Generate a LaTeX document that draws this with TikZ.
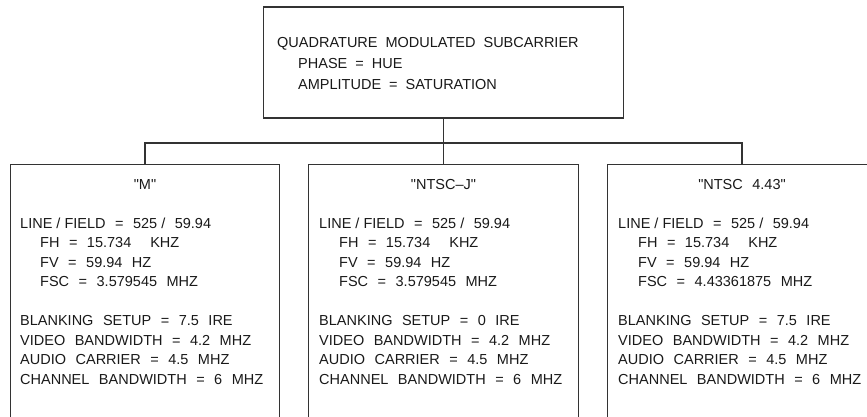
\documentclass[tikz,border=0pt]{standalone}
\usepackage{fontspec}
\setmainfont{Liberation Sans}[Ligatures=TeXOff]
\newcommand\gap{\hspace{8pt}}
\newcommand\bgap{\hspace{9.5pt}}
\newcommand\ind{\hspace*{20pt}}
\newcommand\tind{\hspace*{21pt}}
\begin{document}
\begin{tikzpicture}[x=1pt,y=-1pt,
  frame/.style={draw=black!80, line width=1.2pt},
  wire/.style={draw=black!80, line width=1.2pt},
  txt/.style={inner sep=0pt, text=black!90},
  body/.style={txt, anchor=north west, align=left, font=\fontsize{14.5}{19.5}\selectfont},
  topbody/.style={txt, anchor=north west, align=left, font=\fontsize{14.5}{21.3}\selectfont},
  title/.style={txt, anchor=base, font=\fontsize{14.5}{19.5}\selectfont},
  colbox/.style={inner sep=0pt, minimum width=269pt, minimum height=265pt}
]
\fill[white] (0,0) rectangle (867,417);
\clip (0,0) rectangle (867,417);

% top box
\node[frame, inner sep=0pt, minimum width=360pt, minimum height=111pt] (top) at (443.5,62.5) {};
\node[topbody] (toptext) at (277,36.8) {QUADRATURE\gap MODULATED\gap SUBCARRIER\\
\tind PHASE\gap=\gap HUE\\
\tind AMPLITUDE\gap=\gap SATURATION};

% column boxes (open at the bottom)
\node[colbox] (b1) at (145,297.5) {};
\node[colbox] (b2) at (443.5,297.5) {};
\node[colbox] (b3) at (742,297.5) {};
\foreach \b in {b1,b2,b3}{
  \draw[frame] (\b.south west) -- (\b.north west) -- (\b.north east) -- (\b.south east);
}

% connectors
\coordinate (bus) at (443.5,143);
\draw[wire] (top.south) -- (bus);
\draw[wire] (bus) -- (b2.north);
\draw[wire] (b1.north) |- (bus) -| (b3.north);

% titles
\node[title] (t1) at (145,189) {"M"};
\node[title] (t2) at (443.5,189) {"NTSC–J"};
\node[title] (t3) at (742,189) {"NTSC\bgap 4.43"};

% bodies
\node[body] (m1) at (20,217.5) {LINE / FIELD\bgap=\bgap 525 /\bgap 59.94\\
\ind FH\bgap=\bgap 15.734\bgap\bgap KHZ\\
\ind FV\bgap=\bgap 59.94\bgap HZ\\
\ind FSC\bgap=\bgap 3.579545\bgap MHZ\\[19.5pt]
BLANKING\bgap SETUP\bgap=\bgap 7.5\bgap IRE\\
VIDEO\bgap BANDWIDTH\bgap=\bgap 4.2\bgap MHZ\\
AUDIO\bgap CARRIER\bgap=\bgap 4.5\bgap MHZ\\
CHANNEL\bgap BANDWIDTH\bgap=\bgap 6\bgap MHZ};

\node[body] (m2) at (319,217.5) {LINE / FIELD\bgap=\bgap 525 /\bgap 59.94\\
\ind FH\bgap=\bgap 15.734\bgap\bgap KHZ\\
\ind FV\bgap=\bgap 59.94\bgap HZ\\
\ind FSC\bgap=\bgap 3.579545\bgap MHZ\\[19.5pt]
BLANKING\bgap SETUP\bgap=\bgap 0\bgap IRE\\
VIDEO\bgap BANDWIDTH\bgap=\bgap 4.2\bgap MHZ\\
AUDIO\bgap CARRIER\bgap=\bgap 4.5\bgap MHZ\\
CHANNEL\bgap BANDWIDTH\bgap=\bgap 6\bgap MHZ};

\node[body] (m3) at (618,217.5) {LINE / FIELD\bgap=\bgap 525 /\bgap 59.94\\
\ind FH\bgap=\bgap 15.734\bgap\bgap KHZ\\
\ind FV\bgap=\bgap 59.94\bgap HZ\\
\ind FSC\bgap=\bgap 4.43361875\bgap MHZ\\[19.5pt]
BLANKING\bgap SETUP\bgap=\bgap 7.5\bgap IRE\\
VIDEO\bgap BANDWIDTH\bgap=\bgap 4.2\bgap MHZ\\
AUDIO\bgap CARRIER\bgap=\bgap 4.5\bgap MHZ\\
CHANNEL\bgap BANDWIDTH\bgap=\bgap 6\bgap MHZ};
\end{tikzpicture}
\end{document}
